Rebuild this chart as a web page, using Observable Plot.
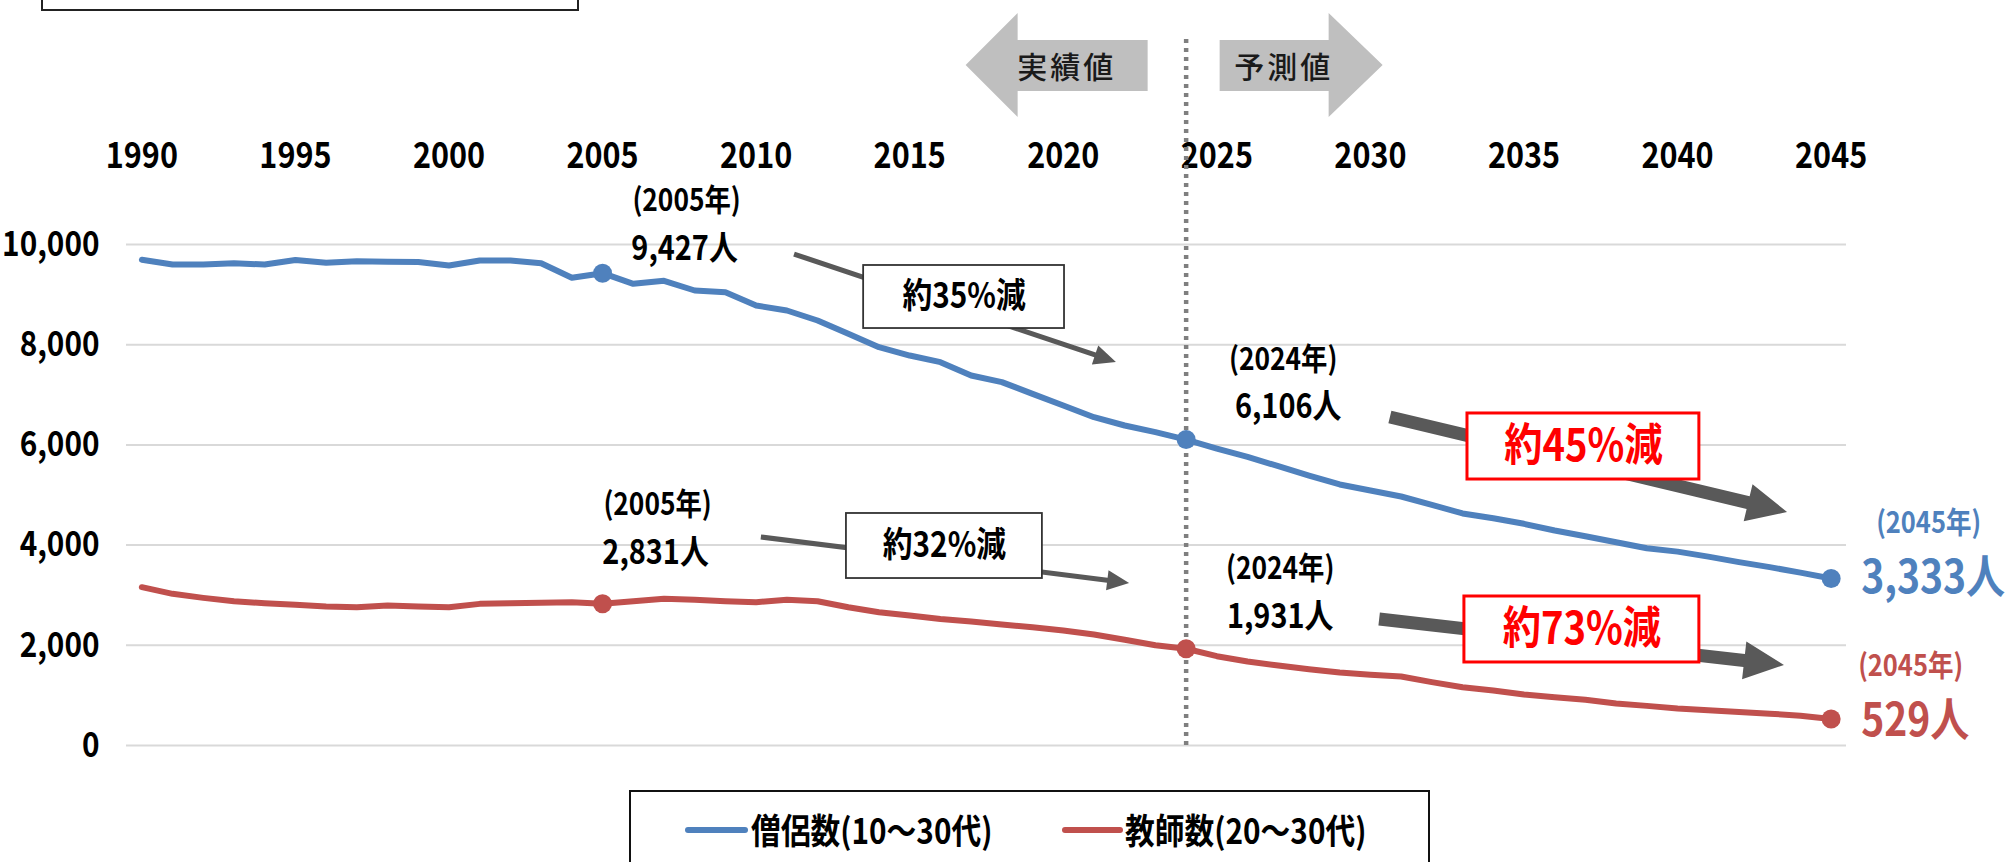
<!DOCTYPE html>
<html>
<head>
<meta charset="utf-8">
<script src="https://cdn.jsdelivr.net/npm/d3@7"></script>
<script src="https://cdn.jsdelivr.net/npm/@observablehq/plot@0.6"></script>
<style>
  html, body { margin: 0; padding: 0; background: #fff; }
  body { position: relative; width: 2015px; height: 862px; overflow: hidden;
         font-family: "Noto Sans CJK JP", "Noto Sans", sans-serif; }
  #chart { position: absolute; left: 0; top: 0; }
  #topbox { position: absolute; left: 41px; top: -12px; width: 534px; height: 19px;
            border: 2px solid #222; background: #fff; }
  #legend { position: absolute; left: 629px; top: 790px; width: 801px; height: 120px;
            border: 2.5px solid #111; background: #fff; box-sizing: border-box; }
  .sw { position: absolute; top: 35px; height: 6px; border-radius: 3px; }
  .lt { position: absolute; top: 15px; font-size: 35px; font-weight: 700; line-height: 44px;
        color: #000; white-space: nowrap; transform: scaleX(0.85); transform-origin: 0 50%; }
</style>
</head>
<body>
<div id="chart"></div>
<div id="topbox"></div>
<div id="legend"></div>
<script>
// ---------- data ----------
const years = [1990,1991,1992,1993,1994,1995,1996,1997,1998,1999,
               2000,2001,2002,2003,2004,2005,2006,2007,2008,2009,
               2010,2011,2012,2013,2014,2015,2016,2017,2018,2019,
               2020,2021,2022,2023,2024,2025,2026,2027,2028,2029,
               2030,2031,2032,2033,2034,2035,2036,2037,2038,2039,
               2040,2041,2042,2043,2044,2045];
// 僧侶数 (10～30代)
const monks = [9694,9600,9600,9627,9600,9690,9634,9667,9654,9650,
               9580,9680,9680,9627,9335,9427,9215,9275,9082,9048,
               8782,8683,8483,8217,7950,7784,7651,7385,7252,7019,
               6786,6553,6387,6254,6106,5928,5762,5575,5389,5210,
               5090,4970,4804,4631,4537,4425,4291,4178,4058,3938,
               3870,3770,3660,3560,3450,3333];
// 教師数 (20～30代)
const teachers = [3160,3027,2947,2880,2840,2807,2774,2760,2794,2774,
                  2760,2827,2840,2847,2860,2831,2880,2927,2907,2880,
                  2860,2907,2880,2760,2660,2594,2527,2474,2415,2361,
                  2295,2215,2110,2000,1931,1783,1677,1597,1524,1457,
                  1411,1377,1264,1164,1098,1018,965,912,838,791,
                  739,705,670,635,595,529];
const seriesNames = ["僧侶数(10～30代)", "教師数(20～30代)"];
const seriesColors = ["#4F81BD", "#C0504D"];
const xTicks = [1990,1995,2000,2005,2010,2015,2020,2025,2030,2035,2040,2045];
const yTicks = [0,2000,4000,6000,8000,10000];
const markerYears = [2005, 2024, 2045];
const splitYear = 2024;
const phaseLabels = ["実績値", "予測値"];

// annotation texts attached to data points
const pointLabels = [
  {s:0, year:2005, text:"(2005年)", dx:84,  dy:-72, size:31, anchor:"middle", col:"#000"},
  {s:0, year:2005, text:"9,427人",  dx:82,  dy:-24, size:34, anchor:"middle", col:"#000"},
  {s:1, year:2005, text:"(2005年)", dx:55,  dy:-99, size:31, anchor:"middle", col:"#000"},
  {s:1, year:2005, text:"2,831人",  dx:53,  dy:-51, size:34, anchor:"middle", col:"#000"},
  {s:0, year:2024, text:"(2024年)", dx:97,  dy:-80, size:31, anchor:"middle", col:"#000"},
  {s:0, year:2024, text:"6,106人",  dx:102, dy:-32, size:34, anchor:"middle", col:"#000"},
  {s:1, year:2024, text:"(2024年)", dx:94,  dy:-80, size:31, anchor:"middle", col:"#000"},
  {s:1, year:2024, text:"1,931人",  dx:94,  dy:-32, size:34, anchor:"middle", col:"#000"},
  {s:0, year:2045, text:"(2045年)", dx:45,  dy:-55, size:30, anchor:"start",  col:"#4F81BD"},
  {s:0, year:2045, text:"3,333人",  dx:30,  dy:0,   size:46, anchor:"start",  col:"#4F81BD"},
  {s:1, year:2045, text:"(2045年)", dx:27,  dy:-53, size:30, anchor:"start",  col:"#C0504D"},
  {s:1, year:2045, text:"529人",    dx:30,  dy:2,   size:46, anchor:"start",  col:"#C0504D"}
];

// decrease callouts (box extents & arrows in data units: year / persons)
const boxTexts = ["約35%減", "約32%減", "約45%減", "約73%減"];
const boxX1 = [2013.5, 2012.94, 2033.16, 2033.06];
const boxX2 = [2020.04, 2019.32, 2040.71, 2040.71];
const boxY1 = [9581, 4631, 6627, 2974];
const boxY2 = [8323, 3333, 5309, 1657];
const boxRed = [false, false, true, true];

const arrowX1 = [2011.25, 2010.17, 2030.65, 2030.30];
const arrowY1 = [9800, 4152, 6547, 2515];
const arrowX2 = [2021.73, 2022.16, 2043.58, 2043.48];
const arrowY2 = [7645, 3234, 4651, 1597];
const arrowBig = [false, false, true, true];

// ---------- build tables ----------
const seriesValues = [monks, teachers];
const lineData = seriesValues.flatMap((vals, s) =>
  years.map((y, i) => ({year: y, value: vals[i], s})));
const markerData = seriesValues.flatMap((vals, s) =>
  markerYears.map(y => ({year: y, value: vals[years.indexOf(y)], s})));
const boxes = boxTexts.map((t, i) => ({t, x1: boxX1[i], x2: boxX2[i], y1: boxY1[i], y2: boxY2[i], red: boxRed[i]}));
const arrows = arrowX1.map((_, i) => ({x1: arrowX1[i], y1: arrowY1[i], x2: arrowX2[i], y2: arrowY2[i], big: arrowBig[i]}));

const FONT = '"Noto Sans CJK JP", "Noto Sans", sans-serif';

function arrowPoints(x1, y1, x2, y2, sw, hl, hw) {
  const dx = x2 - x1, dy = y2 - y1, L = Math.hypot(dx, dy);
  const ux = dx / L, uy = dy / L, nx = -uy, ny = ux;
  const bx = x2 - ux * hl, by = y2 - uy * hl;
  const p = [
    [x1 + nx * sw / 2, y1 + ny * sw / 2],
    [bx + nx * sw / 2, by + ny * sw / 2],
    [bx + nx * hw / 2, by + ny * hw / 2],
    [x2, y2],
    [bx - nx * hw / 2, by - ny * hw / 2],
    [bx - nx * sw / 2, by - ny * sw / 2],
    [x1 - nx * sw / 2, y1 - ny * sw / 2]
  ];
  return p.map(q => q.join(",")).join(" ");
}

const arrowMark = (index, scales) => {
  const g = d3.create("svg:g");
  for (const a of arrows) {
    const X1 = scales.x(a.x1), Y1 = scales.y(a.y1), X2 = scales.x(a.x2), Y2 = scales.y(a.y2);
    g.append("polygon")
      .attr("points", a.big ? arrowPoints(X1, Y1, X2, Y2, 13, 40, 38) : arrowPoints(X1, Y1, X2, Y2, 5, 22, 20))
      .attr("fill", "#595959");
  }
  return g.node();
};

const phaseMark = (index, scales) => {
  const x0 = scales.x(splitYear);
  const g = d3.create("svg:g");
  const left = [[x0-220,65],[x0-168,13],[x0-168,40],[x0-38,40],[x0-38,91],[x0-168,91],[x0-168,117]];
  const right = [[x0+34,40],[x0+143,40],[x0+143,13],[x0+197,65],[x0+143,117],[x0+143,91],[x0+34,91]];
  for (const pts of [left, right]) {
    g.append("polygon").attr("points", pts.map(p => p.join(",")).join(" ")).attr("fill", "#BFBFBF");
  }
  [[x0-119, phaseLabels[0]], [x0+98, phaseLabels[1]]].forEach(([cx, t]) => {
    g.append("text").attr("x", cx).attr("y", 65)
      .attr("class", "keep")
      .attr("text-anchor", "middle").attr("dominant-baseline", "central")
      .attr("font-size", 30).attr("font-weight", 500).attr("letter-spacing", 3)
      .attr("fill", "#1a1a1a").attr("font-family", FONT).text(t);
  });
  return g.node();
};

const plot = Plot.plot({
  width: 2015,
  height: 790,
  marginLeft: 126,
  marginRight: 169,
  marginTop: 244,
  marginBottom: 45,
  style: {fontFamily: FONT, background: "#fff", color: "#000"},
  x: {domain: [1989.5, 2045.5], label: null},
  y: {domain: [0, 10000], label: null},
  marks: [
    Plot.gridY(yTicks, {stroke: "#D9D9D9", strokeOpacity: 1, strokeWidth: 2}),
    Plot.axisX(xTicks, {anchor: "top", tickSize: 0, tickPadding: 77, tickFormat: d => String(d),
                        fontSize: 36, fontWeight: "bold", label: null}),
    Plot.axisY(yTicks, {anchor: "left", tickSize: 0, tickPadding: 27, tickFormat: d3.format(","),
                        fontSize: 35, fontWeight: "bold", label: null}),
    Plot.ruleX([splitYear], {y1: 0, y2: 14100, stroke: "#7F7F7F", strokeWidth: 4.5, strokeDasharray: "4,5"}),
    Plot.line(lineData, {x: "year", y: "value", z: "s", stroke: d => seriesColors[d.s], strokeWidth: 6,
                         strokeLinejoin: "round", strokeLinecap: "round"}),
    Plot.dot(markerData, {x: "year", y: "value", r: 9.5, fill: d => seriesColors[d.s], stroke: "none"}),
    arrowMark,
    Plot.rect(boxes, {x1: "x1", x2: "x2", y1: "y1", y2: "y2", fill: "#fff",
                      stroke: d => d.red ? "#FF0000" : "#333", strokeWidth: d => d.red ? 3 : 1.8}),
    Plot.text(boxes.filter(b => !b.red), {x: d => (d.x1 + d.x2) / 2, y: d => (d.y1 + d.y2) / 2, text: "t",
                      fontSize: 35, fontWeight: "bold", fill: "#000"}),
    Plot.text(boxes.filter(b => b.red), {x: d => (d.x1 + d.x2) / 2, y: d => (d.y1 + d.y2) / 2, text: "t",
                      fontSize: 45, fontWeight: "bold", fill: "#FF0000"}),
    ...pointLabels.map(l => Plot.text([l], {
      x: "year", y: d => seriesValues[d.s][years.indexOf(d.year)], text: "text",
      dx: l.dx, dy: l.dy, fontSize: l.size, fontWeight: "bold", fill: l.col, textAnchor: l.anchor,
      ariaLabel: "annotation"
    })),
    phaseMark
  ]
});
plot.style.overflow = "visible";
document.getElementById("chart").appendChild(plot);

// narrow, tall glyphs like the original typeface: compress text horizontally about its anchor
plot.querySelectorAll("text").forEach(t => {
  if (t.classList.contains("keep")) return;
  const squeeze = t.closest('[aria-label="annotation"]') ? 0.9 : 0.85;
  const x = parseFloat(t.getAttribute("x") || "0") || 0;
  const tr = t.getAttribute("transform") || "";
  t.setAttribute("transform", `${tr} translate(${x},0) scale(${squeeze},1) translate(${-x},0)`.trim());
});

// ---------- legend (below the svg) ----------
const legend = document.getElementById("legend");
const swLeft = [54, 431], txLeft = [120, 494], swWidth = [63, 61];
seriesNames.forEach((name, i) => {
  const sw = document.createElement("div");
  sw.className = "sw";
  sw.style.left = swLeft[i] + "px";
  sw.style.width = swWidth[i] + "px";
  sw.style.background = seriesColors[i];
  legend.appendChild(sw);
  const tx = document.createElement("div");
  tx.className = "lt";
  tx.style.left = txLeft[i] + "px";
  tx.textContent = name;
  legend.appendChild(tx);
});
</script>
</body>
</html>
